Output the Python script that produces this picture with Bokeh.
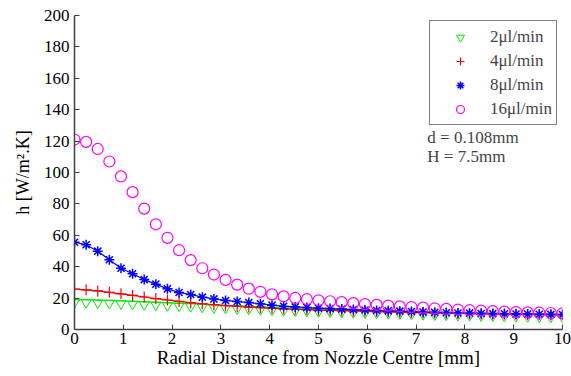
import numpy as np
from bokeh.plotting import figure
from bokeh.models import Legend, LegendItem, Label, Range1d, FixedTicker
from bokeh.embed import file_html
from bokeh.resources import INLINE

# radial positions (mm), 43 evenly spaced samples between 0 and 10
r = np.linspace(0, 10, 43)

green_line = [19.0, 18.9, 18.7, 18.5, 18.2, 17.9, 17.6, 17.3, 17.0, 16.7, 16.4, 16.0, 15.7, 15.3,
              15.0, 14.7, 14.4, 14.1, 13.8, 13.6, 13.4, 13.1, 12.9, 12.7, 12.5, 12.3, 12.1, 11.9,
              11.7, 11.5, 11.3, 11.1, 11.0, 10.8, 10.7, 10.5, 10.4, 10.2, 10.1, 10.0, 9.8, 9.7, 9.6]
green_pts = [17.3, 17.2, 17.0, 16.8, 16.5, 16.2, 15.9, 15.6, 15.3, 15.0, 14.7, 14.3, 14.0, 13.6,
             13.3, 13.0, 12.7, 12.4, 12.1, 11.9, 11.7, 11.4, 11.2, 11.0, 10.8, 10.6, 10.4, 10.2,
             10.0, 9.8, 9.6, 9.4, 9.3, 9.1, 9.0, 8.8, 8.7, 8.5, 8.4, 8.3, 8.1, 8.0, 7.9]
red_vals = [25.8, 25.3, 24.6, 23.7, 22.7, 21.7, 20.7, 19.7, 18.8, 17.9, 17.1, 16.4, 15.8, 15.2,
            14.7, 14.3, 13.9, 13.5, 13.2, 12.9, 12.7, 12.4, 12.2, 12.0, 11.8, 11.6, 11.4, 11.2,
            11.0, 10.8, 10.7, 10.5, 10.4, 10.2, 10.1, 10.0, 9.9, 9.8, 9.7, 9.6, 9.5, 9.4, 9.3]
blue_vals = [55.6, 54.0, 49.9, 44.4, 39.0, 35.5, 31.8, 28.9, 25.9, 23.6, 22.3, 20.6, 19.5, 18.5,
             17.8, 17.2, 16.4, 15.5, 14.8, 14.4, 14.0, 13.6, 13.3, 13.0, 12.7, 12.4, 12.1, 11.9,
             11.7, 11.4, 11.1, 10.9, 10.7, 10.5, 10.4, 10.2, 10.1, 10.0, 9.9, 9.8, 9.7, 9.6, 9.5]
mag_vals = [121.0, 119.5, 115.0, 107.0, 97.5, 87.5, 77.0, 67.0, 58.4, 50.5, 44.2, 39.0, 35.0, 31.6,
            28.6, 26.0, 24.0, 22.4, 21.1, 20.1, 19.3, 18.6, 18.0, 17.4, 16.8, 16.2, 15.7, 15.2,
            14.7, 14.3, 13.9, 13.5, 13.1, 12.7, 12.3, 12.0, 11.7, 11.4, 11.1, 10.9, 10.7, 10.5, 10.3]

labels = ["2\u03bcl/min", "4\u03bcl/min", "8\u03bcl/min", "16\u03bcl/min"]
x_ticks = [0, 1, 2, 3, 4, 5, 6, 7, 8, 9, 10]
y_ticks = [0, 20, 40, 60, 80, 100, 120, 140, 160, 180, 200]
notes = ["d  = 0.108mm", "H = 7.5mm"]

FONT = "'Liberation Serif', 'Times New Roman', serif"

p = figure(width=571, height=376, output_backend="svg", toolbar_location=None,
           x_range=Range1d(0, 10), y_range=Range1d(0, 200),
           min_border_left=74, min_border_right=9, min_border_top=15, min_border_bottom=47)
p.outline_line_color = None
p.grid.visible = False
p.background_fill_color = "white"

for ax in (p.xaxis[0], p.yaxis[0]):
    ax.axis_line_color = "#404040"
    ax.axis_line_width = 1.5
    ax.major_tick_line_color = "#404040"
    ax.major_tick_in = 5
    ax.major_tick_out = 0
    ax.minor_tick_line_color = None
    ax.major_label_text_font = FONT
    ax.major_label_text_font_size = "17px"
    ax.major_label_text_color = "black"
    ax.axis_label_text_font = FONT
    ax.axis_label_text_font_style = "normal"
    ax.axis_label_text_color = "black"

p.xaxis.axis_label_text_font_size = "19px"
p.yaxis.axis_label_text_font_size = "18px"
p.xaxis.ticker = FixedTicker(ticks=x_ticks)
p.yaxis.ticker = FixedTicker(ticks=y_ticks)
p.xaxis.major_label_standoff = 3
p.yaxis.major_label_standoff = 5
p.xaxis.axis_label = "Radial Distance from Nozzle Centre [mm]"
p.yaxis.axis_label = "h [W/m\u00b2.K]"
p.xaxis.axis_label_standoff = 0
p.yaxis.axis_label_standoff = 8

# green: line plus downward triangles
p.line(r, green_line, line_color="#00EE00", line_width=1.2)
g = p.scatter(r, green_pts, marker="inverted_triangle", size=10, fill_color=None,
              line_color="#00EE00", line_width=1)
# red: line plus crosses
p.line(r, red_vals, line_color="#FF0000", line_width=1.2)
rr = p.scatter(r, red_vals, marker="cross", size=11, line_color="#FF0000", line_width=1.2)
# blue: line plus asterisks
p.line(r, blue_vals, line_color="#0000FF", line_width=1.2)
b = p.scatter(r, blue_vals, marker="asterisk", size=10, line_color="#0000FF", line_width=1.5)
# magenta circles
m = p.scatter(r, mag_vals, marker="circle", size=11, fill_color=None,
              line_color="#FF00FF", line_width=1.2)

legend = Legend(items=[LegendItem(label=labels[0], renderers=[g]),
                       LegendItem(label=labels[1], renderers=[rr]),
                       LegendItem(label=labels[2], renderers=[b]),
                       LegendItem(label=labels[3], renderers=[m])],
                location="top_right")
legend.margin = 5
legend.padding = 4
legend.spacing = 1
legend.label_height = 23
legend.glyph_height = 20
legend.glyph_width = 52
legend.label_standoff = 4
legend.label_text_font = FONT
legend.label_text_font_size = "17px"
legend.border_line_color = "black"
legend.border_line_width = 1
legend.background_fill_alpha = 1
p.add_layout(legend)

p.add_layout(Label(x=7.23, y=122, text=notes[0], text_font=FONT, text_font_size="17px",
                   text_baseline="middle"))
p.add_layout(Label(x=7.23, y=110, text=notes[1], text_font=FONT, text_font_size="17px",
                   text_baseline="middle"))

open("out.html", "w").write(file_html(p, INLINE))
